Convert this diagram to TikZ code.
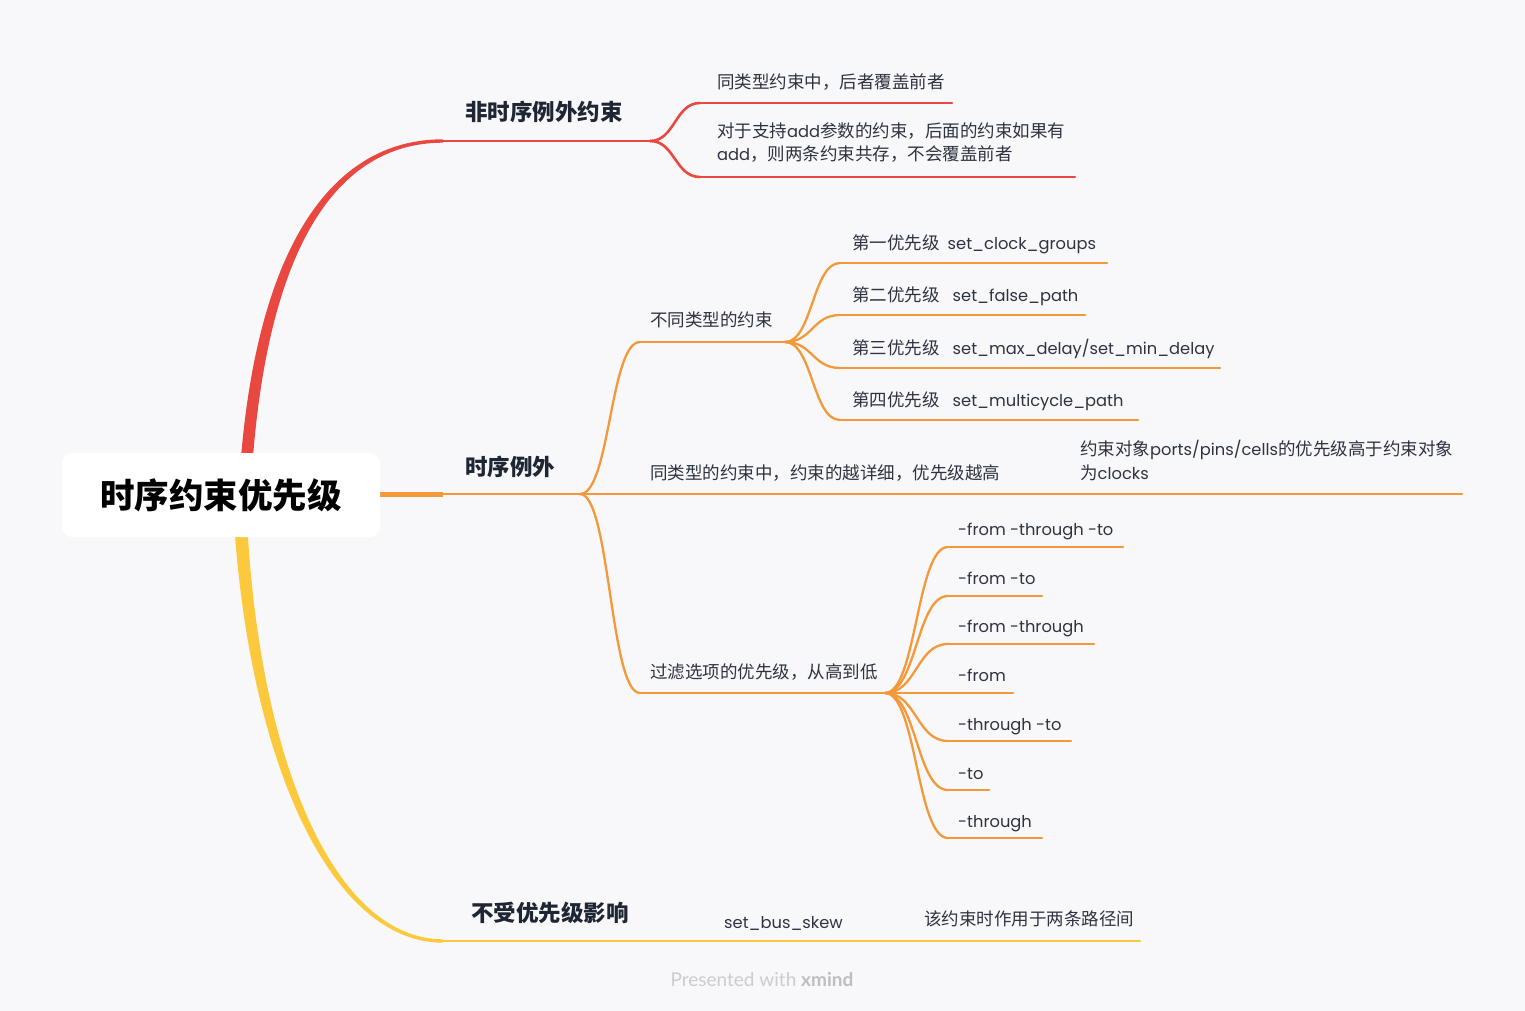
\documentclass[tikz,border=0pt]{standalone}
\usepackage{fontspec}
\setmainfont{Poppins}[Scale=0.93]
\newfontfamily\cjk{Noto Sans CJK SC}
\newfontfamily\footfont{Lato}
\usetikzlibrary{calc}
\definecolor{bg}{HTML}{F8F8FA}
\definecolor{cred}{HTML}{E8483F}
\definecolor{corange}{HTML}{F3993A}
\definecolor{cyellow}{HTML}{FCC93C}
\definecolor{txt}{HTML}{2D3340}
\definecolor{head}{HTML}{1E2533}
\definecolor{footc}{HTML}{CCCCD0}
\definecolor{footb}{HTML}{BDBDC2}
\newcommand\zh[1]{{\cjk #1}}
\newcommand\link[3]{\draw[#1] let \p1=(#2), \p2=(#3) in (#2) .. controls ({(\x1+\x2)/2},\y1) and ({(\x1+\x2)/2},\y2) .. (#3);}
\begin{document}
\begin{tikzpicture}[x=1pt,y=-1pt,
  lbl/.style={anchor=base west, inner sep=0pt, font=\fontsize{17.5}{21}\selectfont, text=txt},
  hd/.style={anchor=base west, inner sep=0pt, font=\cjk\bfseries\fontsize{22.5}{26}\selectfont, text=head},
  rootbox/.style={fill=white, rounded corners=10pt, minimum width=318pt, minimum height=84pt, inner sep=0pt, font=\cjk\bfseries\fontsize{34.5}{40}\selectfont, text=black},
  redl/.style={draw=cred, line width=2.6pt},
  orl/.style={draw=corange, line width=2.3pt},
  yel/.style={draw=cyellow, line width=2.8pt},
  line cap=round]
\fill[bg] (0,0) rectangle (1525,1011);
\useasboundingbox (0,0) rectangle (1525,1011);

% ---------- coordinates ----------
\coordinate (r0) at (443,141);
\coordinate (rj) at (650,141);
\coordinate (rc1a) at (700,103); \coordinate (rc1b) at (952,103);
\coordinate (rc2a) at (700,177); \coordinate (rc2b) at (1075,177);

\coordinate (oroot) at (378,494);
\coordinate (o0) at (443,494);
\coordinate (oj) at (580,494);
\coordinate (oa1) at (640,342); \coordinate (oa2) at (785,342);
\coordinate (ob1) at (1065,494); \coordinate (ob2) at (1462,494);
\coordinate (oc1) at (640,693); \coordinate (oc2) at (885,693);

\coordinate (p1a) at (840,263); \coordinate (p1b) at (1107,263);
\coordinate (p2a) at (840,315); \coordinate (p2b) at (1085,315);
\coordinate (p3a) at (840,368); \coordinate (p3b) at (1220,368);
\coordinate (p4a) at (840,420); \coordinate (p4b) at (1138,420);

\coordinate (f1a) at (948,547); \coordinate (f1b) at (1123,547);
\coordinate (f2a) at (948,596); \coordinate (f2b) at (1042,596);
\coordinate (f3a) at (948,644); \coordinate (f3b) at (1094,644);
\coordinate (f4a) at (948,693); \coordinate (f4b) at (1013,693);
\coordinate (f5a) at (948,741); \coordinate (f5b) at (1071,741);
\coordinate (f6a) at (948,790); \coordinate (f6b) at (989,790);
\coordinate (f7a) at (948,838); \coordinate (f7b) at (1042,838);

\coordinate (y0) at (443,941); \coordinate (y1) at (1140,941);

% ---------- main tapered branches ----------
\fill[cred] (240,470) .. controls (256,250) and (330,139.3) .. (443,139.3)
  -- (443,142.7) .. controls (334,142.7) and (267,252) .. (252,470) -- cycle;
\fill[cyellow] (234,520) .. controls (249,760) and (330,942.7) .. (443,942.7)
  -- (443,939.3) .. controls (334,939.3) and (259,760) .. (247,520) -- cycle;
\draw[corange, line width=5pt, line cap=butt] (oroot) -- (o0);

% ---------- red branch ----------
\draw[redl] (r0) -- (rj);
\link{redl}{rj}{rc1a}
\link{redl}{rj}{rc2a}
\draw[redl] (rc1a) -- (rc1b);
\draw[redl] (rc2a) -- (rc2b);

% ---------- orange branch ----------
\draw[orl, line width=2.8pt] (o0) -- (oj);
\link{orl}{oj}{oa1}
\link{orl}{oj}{oc1}
\draw[orl] (oa1) -- (oa2);
\draw[orl] (oj) -- (ob1) -- (ob2);
\draw[orl] (oc1) -- (oc2);
\foreach \k in {1,2,3,4}{\link{orl}{oa2}{p\k a}\draw[orl] (p\k a) -- (p\k b);}
\foreach \k in {1,2,3,4,5,6,7}{\link{orl}{oc2}{f\k a}\draw[orl] (f\k a) -- (f\k b);}

% ---------- yellow branch ----------
\draw[yel] (y0) -- (y1);

% ---------- root ----------
\node[rootbox] (root) at (221,495) {时序约束优先级};

% ---------- texts ----------
\node[hd] (h1) at (465,121) {非时序例外约束};
\node[lbl] (c1) at (717,89) {\zh{同类型约束中，后者覆盖前者}};
\node[lbl] (c2a) at (717,138) {\zh{对于支持}add\zh{参数的约束，后面的约束如果有}};
\node[lbl] (c2b) at (717,161) {add\zh{，则两条约束共存，不会覆盖前者}};

\node[hd] (h2) at (465,475) {时序例外};
\node[lbl] (t1) at (650,326) {\zh{不同类型的约束}};
\node[lbl] (t2) at (650,479) {\zh{同类型的约束中，约束的越详细，优先级越高}};
\node[lbl] (t2c1) at (1080,455) {\zh{约束对象}ports/pins/cells\zh{的优先级高于约束对象}};
\node[lbl] (t2c2) at (1080,479) {\zh{为}clocks};
\node[lbl] (t3) at (650,678) {\zh{过滤选项的优先级，从高到低}};

\node[lbl] (q1) at (852,249) {\zh{第一优先级}\hspace{8pt}set\_clock\_groups};
\node[lbl] (q2) at (852,301) {\zh{第二优先级}\hspace{13pt}set\_false\_path};
\node[lbl] (q3) at (852,354) {\zh{第三优先级}\hspace{13pt}set\_max\_delay/set\_min\_delay};
\node[lbl] (q4) at (852,406) {\zh{第四优先级}\hspace{13pt}set\_multicycle\_path};

\node[lbl] (g1) at (958,535) {-from -through -to};
\node[lbl] (g2) at (958,584) {-from -to};
\node[lbl] (g3) at (958,632) {-from -through};
\node[lbl] (g4) at (958,681) {-from};
\node[lbl] (g5) at (958,730) {-through -to};
\node[lbl] (g6) at (958,779) {-to};
\node[lbl] (g7) at (958,827) {-through};

\node[hd] (h3) at (471,921) {不受优先级影响};
\node[lbl] (s1) at (724,928) {set\_bus\_skew};
\node[lbl] (s2) at (924,925) {\zh{该约束时作用于两条路径间}};

\node[font=\footfont\fontsize{19}{22}\selectfont, text=footc, inner sep=0pt] (foot) at (762,980) {Presented with \textcolor{footb}{\textbf{xmind}}};
\end{tikzpicture}
\end{document}
